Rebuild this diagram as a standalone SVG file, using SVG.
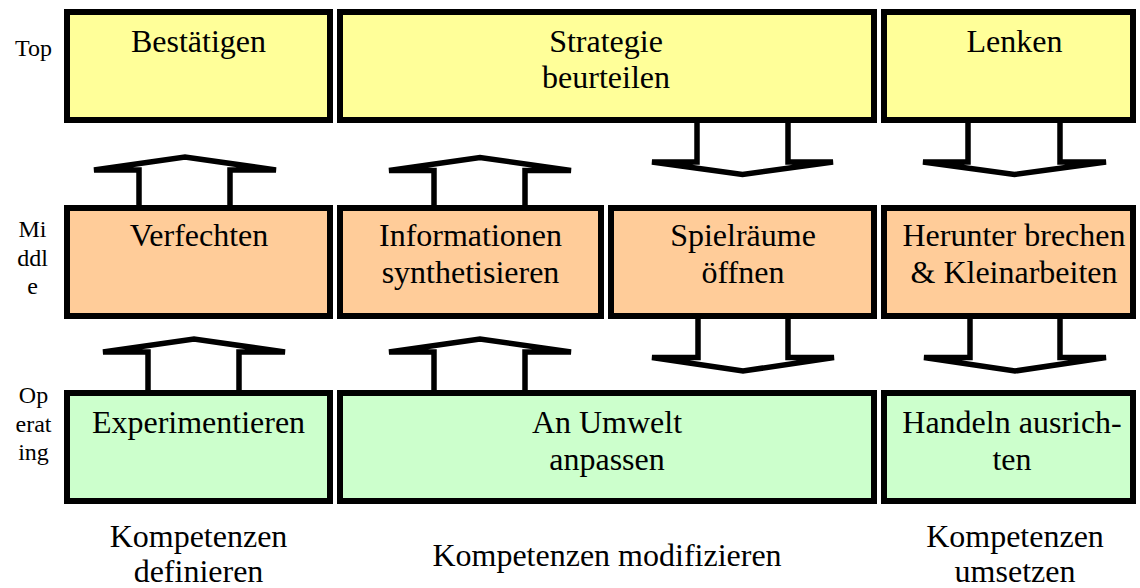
<svg xmlns="http://www.w3.org/2000/svg" width="1140" height="588" viewBox="0 0 1140 588">
  <style>
    .box { stroke: #000; stroke-width: 6; }
    .top { fill: #FFFF99; }
    .mid { fill: #FFCC99; }
    .op { fill: #CCFFCC; }
    .arrow { fill: #fff; stroke: #000; stroke-width: 5.5; stroke-linejoin: miter; stroke-miterlimit: 3; }
    text { font-family: "Liberation Serif", "Times New Roman", serif; fill: #000; text-anchor: middle; }
    .lbl { font-size: 32px; }
    .side { font-size: 24px; }
  </style>

  <rect width="1140" height="588" fill="#fff"/>

  <!-- connectors: block arrows between the levels -->
  <g id="connectors">
    <!-- Verfechten -> Bestätigen -->
    <path class="arrow" d="M139,208 V170 H94 L185,157 L276,170 H230 V208"/>
    <!-- Informationen synthetisieren -> Strategie beurteilen -->
    <path class="arrow" d="M434,208 V170.5 H389 L480,157.5 L571,170.5 H525 V208"/>
    <!-- Strategie beurteilen -> Spielräume öffnen -->
    <path class="arrow" d="M697,120 V162 H652 L742.5,174.5 L833,162 H788 V120"/>
    <!-- Lenken -> Herunter brechen -->
    <path class="arrow" d="M968,120 V162 H923 L1014.5,174.5 L1106,162 H1060 V120"/>
    <!-- Experimentieren -> Verfechten -->
    <path class="arrow" d="M148,393 V352 H103 L194,339 L285,352 H239 V393"/>
    <!-- An Umwelt anpassen -> Informationen synthetisieren -->
    <path class="arrow" d="M434,393 V352 H389 L480,339 L571,352 H525 V393"/>
    <!-- Spielräume öffnen -> An Umwelt anpassen -->
    <path class="arrow" d="M698,316 V357.5 H652 L743,371 L834,357.5 H788 V316"/>
    <!-- Herunter brechen -> Handeln ausrichten -->
    <path class="arrow" d="M970,316 V357.5 H924 L1015,371 L1106,357.5 H1060 V316"/>
  </g>

  <!-- level labels -->
  <g id="level-top">
    <text class="side" x="33.5" y="56">Top</text>
  </g>
  <g id="level-middle">
    <text class="side" x="32.5" y="237">Mi</text>
    <text class="side" x="32.5" y="266">ddl</text>
    <text class="side" x="32.5" y="294">e</text>
  </g>
  <g id="level-operating">
    <text class="side" x="33.5" y="403">Op</text>
    <text class="side" x="33.5" y="432">erat</text>
    <text class="side" x="33.5" y="460">ing</text>
  </g>

  <!-- top row -->
  <g id="bestaetigen">
    <rect class="box top" x="67" y="12" width="263" height="108"/>
    <text class="lbl" x="198.5" y="52">Bestätigen</text>
  </g>
  <g id="strategie-beurteilen">
    <rect class="box top" x="340" y="12" width="534" height="108"/>
    <text class="lbl" x="606" y="52">Strategie</text>
    <text class="lbl" x="606" y="88">beurteilen</text>
  </g>
  <g id="lenken">
    <rect class="box top" x="884" y="12" width="249" height="108"/>
    <text class="lbl" x="1014.5" y="52">Lenken</text>
  </g>

  <!-- middle row -->
  <g id="verfechten">
    <rect class="box mid" x="67" y="208" width="263" height="108"/>
    <text class="lbl" x="199" y="246">Verfechten</text>
  </g>
  <g id="informationen-synthetisieren">
    <rect class="box mid" x="340" y="208" width="261" height="108"/>
    <text class="lbl" x="470.5" y="246">Informationen</text>
    <text class="lbl" x="470.5" y="283">synthetisieren</text>
  </g>
  <g id="spielraeume-oeffnen">
    <rect class="box mid" x="611" y="208" width="263" height="108"/>
    <text class="lbl" x="743" y="246">Spielräume</text>
    <text class="lbl" x="743" y="283">öffnen</text>
  </g>
  <g id="herunter-brechen">
    <rect class="box mid" x="884" y="208" width="249" height="108"/>
    <text class="lbl" x="1014" y="246">Herunter brechen</text>
    <text class="lbl" x="1014" y="283">&amp; Kleinarbeiten</text>
  </g>

  <!-- operating row -->
  <g id="experimentieren">
    <rect class="box op" x="67" y="393" width="263" height="108"/>
    <text class="lbl" x="198.5" y="433">Experimentieren</text>
  </g>
  <g id="an-umwelt-anpassen">
    <rect class="box op" x="340" y="393" width="534" height="108"/>
    <text class="lbl" x="607" y="433">An Umwelt</text>
    <text class="lbl" x="607" y="470">anpassen</text>
  </g>
  <g id="handeln-ausrichten">
    <rect class="box op" x="884" y="393" width="249" height="108"/>
    <text class="lbl" x="1012" y="433">Handeln ausrich-</text>
    <text class="lbl" x="1012" y="470">ten</text>
  </g>

  <!-- competence captions -->
  <g id="kompetenzen-definieren">
    <text class="lbl" x="198.5" y="547">Kompetenzen</text>
    <text class="lbl" x="198.5" y="582">definieren</text>
  </g>
  <g id="kompetenzen-modifizieren">
    <text class="lbl" x="607" y="566">Kompetenzen modifizieren</text>
  </g>
  <g id="kompetenzen-umsetzen">
    <text class="lbl" x="1015" y="547">Kompetenzen</text>
    <text class="lbl" x="1015" y="582">umsetzen</text>
  </g>
</svg>
